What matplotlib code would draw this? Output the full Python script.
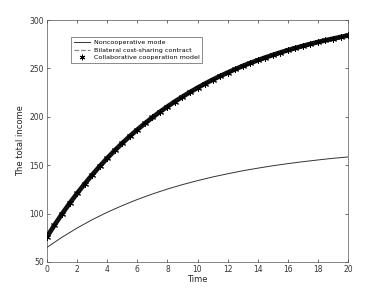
import matplotlib
matplotlib.use('Agg')
import matplotlib.pyplot as plt
import numpy as np

# values
t_non = list(range(0, 21))
noncooperative = [65.0, 75.5, 85.0, 93.6, 101.3, 108.2, 114.5, 120.2, 125.3, 129.9,
                  134.0, 137.8, 141.1, 144.2, 146.9, 149.4, 151.6, 153.6, 155.4, 157.1, 158.5]

t_coop = [i * 0.5 for i in range(41)]
collaborative = [76.0, 88.1, 99.6, 110.5, 120.8, 130.6, 139.9, 148.8, 157.2, 165.2,
                 172.7, 179.9, 186.7, 193.1, 199.3, 205.1, 210.6, 215.8, 220.8, 225.5,
                 230.0, 234.3, 238.3, 242.1, 245.7, 249.2, 252.5, 255.6, 258.5, 261.3,
                 263.9, 266.5, 268.9, 271.1, 273.3, 275.3, 277.3, 279.1, 280.8, 282.5, 284.1]
# the dashed curve sits under the star markers in the picture
bilateral = list(collaborative)

xticks = list(range(0, 21, 2))
yticks = [50, 100, 150, 200, 250, 300]

fig = plt.figure(figsize=(3.85, 3.0), dpi=100)
ax = fig.add_axes([0.122, 0.127, 0.782, 0.806])

asterisk = (6, 2, 0)
ax.plot(t_non, noncooperative, '-', color='#333333', lw=0.7, label='Noncooperative mode')
ax.plot(t_coop, bilateral, '--', color='#888888', lw=0.9, label='Bilateral cost-sharing contract')
ax.plot(t_coop, collaborative, '-', color='#111111', lw=3.4, zorder=3)
ax.plot(t_coop, collaborative, linestyle='none', marker=asterisk, color='black',
        ms=5, mew=0.7, zorder=4, label='Collaborative cooperation model')

ax.set_xlim(0, 20)
ax.set_ylim(50, 300)
ax.set_xticks(xticks)
ax.set_yticks(yticks)
ax.tick_params(direction='in', length=2.5, width=0.5, labelsize=5.5,
               colors='#333333', top=True, right=True, pad=2)
for s in ax.spines.values():
    s.set_linewidth(0.5)
    s.set_color('#555555')

ax.set_xlabel('Time', fontsize=6, color='#262626', labelpad=1)
ax.set_ylabel('The total income', fontsize=6, color='#262626', labelpad=3)

leg = ax.legend(loc='upper left', bbox_to_anchor=(0.08, 0.93), borderaxespad=0,
                fontsize=4.6, frameon=True, fancybox=False, handlelength=2.6,
                borderpad=0.4, labelspacing=0.35, handletextpad=0.6, markerscale=0.8)
leg.get_frame().set_edgecolor('#333333')
leg.get_frame().set_linewidth(0.5)

fig.savefig('out.png', dpi=100)
